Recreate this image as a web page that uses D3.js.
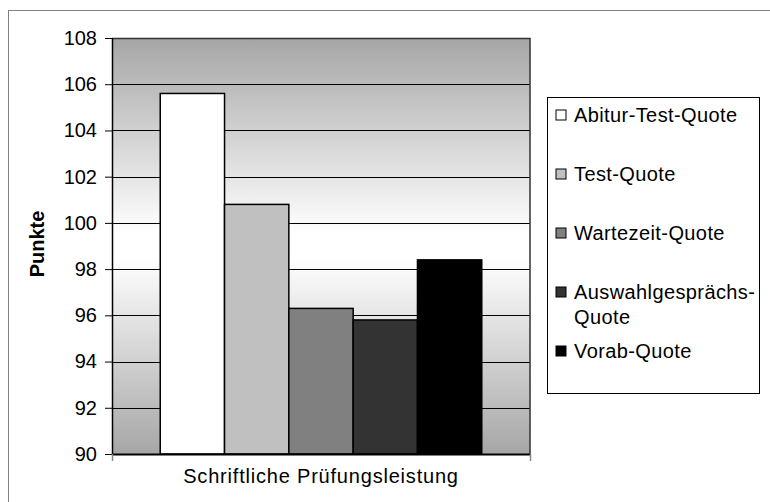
<!DOCTYPE html>
<html><head><meta charset="utf-8">
<script src="https://cdn.jsdelivr.net/npm/d3@7"></script>
<style>body{margin:0;background:#fff}svg{display:block}text{font-family:"Liberation Sans",Arial,sans-serif}</style>
</head><body>
<svg id="c" width="770" height="502"></svg>
<script>
const categories = ["Schriftliche Prüfungsleistung"];
const series = ["Abitur-Test-Quote","Test-Quote","Wartezeit-Quote","Auswahlgesprächs-Quote","Vorab-Quote"];
const legendLines = [["Abitur-Test-Quote"],["Test-Quote"],["Wartezeit-Quote"],["Auswahlgesprächs-","Quote"],["Vorab-Quote"]];
const values = [105.6, 100.8, 96.3, 95.8, 98.4];
const colors = ["#ffffff","#c0c0c0","#808080","#333333","#000000"];
const yTicks = [90,92,94,96,98,100,102,104,106,108];
const yLabel = "Punkte";

const svg = d3.select("#c");
const L = 112, R = 530, T = 38, B = 454;

// outer border
svg.append("rect").attr("x",8.5).attr("y",10.5).attr("width",800).attr("height",600)
  .attr("fill","#fff").attr("stroke","#808080").attr("stroke-width",1);

const defs = svg.append("defs");
const g = defs.append("linearGradient").attr("id","bg").attr("x1",0).attr("y1",0).attr("x2",0).attr("y2",1);
g.append("stop").attr("offset","0%").attr("stop-color","#a6a6a6");
g.append("stop").attr("offset","47%").attr("stop-color","#ffffff");
g.append("stop").attr("offset","53%").attr("stop-color","#ffffff");
g.append("stop").attr("offset","100%").attr("stop-color","#a6a6a6");

const y = d3.scaleLinear().domain([90,108]).range([B,T]);
const x0 = d3.scaleBand().domain(categories).range([L,R]).paddingInner(0).paddingOuter(0);
// Excel gap width 150%: group occupies n/(n+1.5) of category
const n = series.length;
const groupW = x0.bandwidth() * n/(n+1.5);
const x1 = d3.scaleBand().domain(series).range([0,groupW]).padding(0);

svg.append("rect").attr("x",L).attr("y",T).attr("width",R-L).attr("height",B-T).attr("fill","url(#bg)");

// gridlines
svg.append("g").selectAll("line").data(yTicks.filter(t=>t>90)).join("line")
  .attr("x1",L).attr("x2",R).attr("y1",d=>Math.round(y(d))+0.5).attr("y2",d=>Math.round(y(d))+0.5)
  .attr("stroke","#000").attr("stroke-width",1);

// plot border (top/right)
svg.append("path").attr("d",`M${L},${T+0.5}H${R}V${B}`).attr("fill","none").attr("stroke","#333").attr("stroke-width",1.5);

// bars
const gx = (x0(categories[0]) + (x0.bandwidth()-groupW)/2);
svg.append("g").attr("transform",`translate(${gx},0)`).selectAll("rect").data(values).join("rect")
  .attr("x",(d,i)=>x1(series[i])).attr("width",x1.bandwidth())
  .attr("y",d=>y(d)).attr("height",d=>B-y(d))
  .attr("fill",(d,i)=>colors[i]).attr("stroke","#000").attr("stroke-width",1.5);

// y axis
const ya = svg.append("g").attr("transform",`translate(${L},0)`)
  .call(d3.axisLeft(y).tickValues(yTicks).tickSize(7).tickPadding(8).tickFormat(d3.format("d")));
ya.select(".domain").attr("stroke","#000").attr("stroke-width",1.5).attr("d",`M0.5,${T}V${B}`);
ya.selectAll(".tick line").attr("stroke","#000");
ya.selectAll("text").attr("font-size",20).attr("fill","#000").attr("font-family","Liberation Sans, Arial, sans-serif");

// x axis
const xa = svg.append("g").attr("transform",`translate(0,${B})`)
  .call(d3.axisBottom(x0).tickSize(0).tickFormat(""));
xa.select(".domain").attr("stroke","#000").attr("stroke-width",2).attr("d",`M${L},0.5H${R}`);
svg.append("g").selectAll("line").data([L,R]).join("line")
  .attr("x1",d=>d+0.5).attr("x2",d=>d+0.5).attr("y1",B).attr("y2",B+7).attr("stroke","#888").attr("stroke-width",1.5);
svg.append("text").attr("x",(L+R)/2).attr("y",483).attr("text-anchor","middle").attr("font-size",20)
  .attr("letter-spacing","0.8px").attr("fill","#000").text(categories[0]);

// y label
svg.append("text").attr("transform",`translate(44,244) rotate(-90)`).attr("text-anchor","middle")
  .attr("font-size",20).attr("font-weight","bold").attr("fill","#000").text(yLabel);

// legend
svg.append("rect").attr("x",547.5).attr("y",97.5).attr("width",212).attr("height",296)
  .attr("fill","#fff").attr("stroke","#000").attr("stroke-width",1);
const lg = svg.append("g").selectAll("g").data(series).join("g")
  .attr("transform",(d,i)=>`translate(0,${115 + i*59})`);
lg.append("rect").attr("x",556).attr("y",-5).attr("width",10).attr("height",10)
  .attr("fill",(d,i)=>colors[i]).attr("stroke","#000").attr("stroke-width",1);
lg.each(function(d,i){
  const s = d3.select(this);
  legendLines[i].forEach((ln,j)=>{
    s.append("text").attr("x",574).attr("y",j*25).attr("dy","0.35em").attr("font-size",20)
      .attr("letter-spacing","0.4px").attr("fill","#000").text(ln);
  });
});
</script>
</body></html>
